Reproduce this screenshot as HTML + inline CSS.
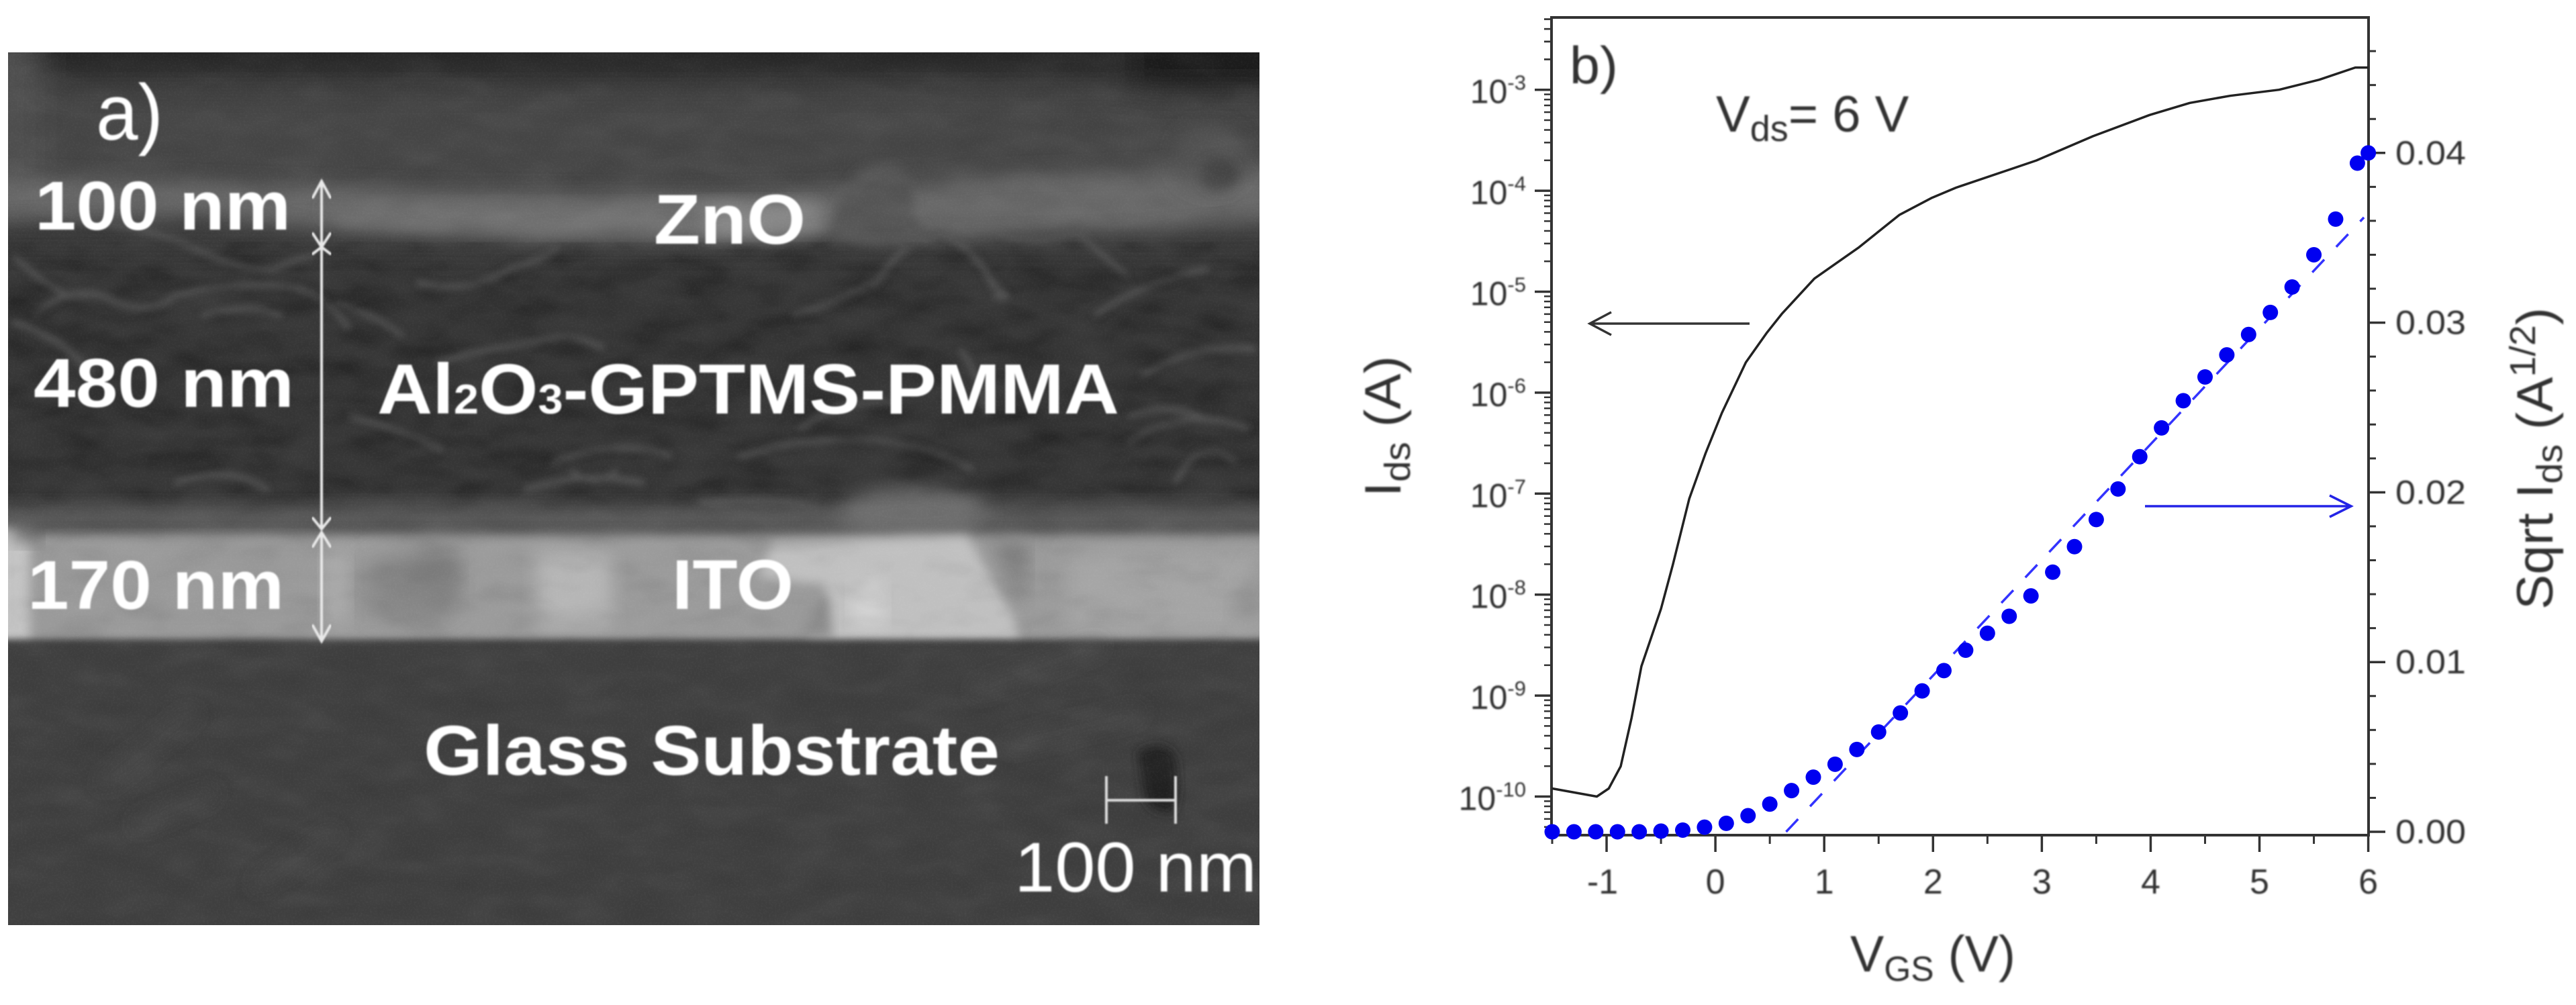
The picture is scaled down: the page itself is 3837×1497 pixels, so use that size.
<!DOCTYPE html>
<html lang="en">
<head>
<meta charset="utf-8">
<title>SEM cross-section and transfer characteristics</title>
<style>
html,body{margin:0;padding:0;background:#fff;width:3837px;height:1497px;overflow:hidden}
svg{display:block}
text{font-family:"Liberation Sans",sans-serif}
.bold{font-weight:700;fill:#fff}
.reg{fill:#fff}
.ink{fill:#333}
</style>
</head>
<body>
<svg id="figure" xmlns="http://www.w3.org/2000/svg" width="3837" height="1497" viewBox="0 0 3837 1497">
<defs>
<clipPath id="semClip"><rect x="12" y="78" width="1864" height="1300"/></clipPath>
<filter id="b30" x="-30%" y="-30%" width="160%" height="160%"><feGaussianBlur stdDeviation="30"/></filter>
<filter id="b22" x="-20%" y="-30%" width="140%" height="160%"><feGaussianBlur stdDeviation="22"/></filter>
<filter id="b14" x="-20%" y="-40%" width="140%" height="180%"><feGaussianBlur stdDeviation="14"/></filter>
<filter id="b8" x="-20%" y="-40%" width="140%" height="180%"><feGaussianBlur stdDeviation="8"/></filter>
<filter id="b5" x="-20%" y="-40%" width="140%" height="180%"><feGaussianBlur stdDeviation="5"/></filter>
<filter id="soft" x="-5%" y="-20%" width="110%" height="140%"><feGaussianBlur stdDeviation="1.1"/></filter>
<filter id="noiseLight" x="0" y="0" width="100%" height="100%" color-interpolation-filters="sRGB">
<feTurbulence type="fractalNoise" baseFrequency="0.012 0.03" numOctaves="3" seed="7"/>
<feColorMatrix type="matrix" values="0 0 0 0 1  0 0 0 0 1  0 0 0 0 1  1.6 0 0 0 -0.8"/>
<feGaussianBlur stdDeviation="3"/>
</filter>
<filter id="noiseDark" x="0" y="0" width="100%" height="100%" color-interpolation-filters="sRGB">
<feTurbulence type="fractalNoise" baseFrequency="0.012 0.03" numOctaves="3" seed="7"/>
<feColorMatrix type="matrix" values="0 0 0 0 0  0 0 0 0 0  0 0 0 0 0  -2 0 0 0 1"/>
<feGaussianBlur stdDeviation="3"/>
</filter>
<filter id="grain" x="0" y="0" width="100%" height="100%" color-interpolation-filters="sRGB">
<feTurbulence type="fractalNoise" baseFrequency="0.35" numOctaves="2" seed="3"/>
<feColorMatrix type="matrix" values="0 0 0 0 1  0 0 0 0 1  0 0 0 0 1  1.2 0 0 0 -0.5"/>
</filter>
</defs>

<g id="panel-a">
  <g clip-path="url(#semClip)">
    <rect x="0" y="60" width="1900" height="1340" fill="#3c3c3c"/>
    <g filter="url(#b22)">
      <rect x="-60" y="130" width="2020" height="170" fill="#464646"/>
      <rect x="-60" y="30" width="2020" height="85" fill="#272727"/>
      <rect x="-60" y="60" width="120" height="230" fill="#505050"/>
      <rect x="1690" y="30" width="240" height="110" fill="#1f1f1f"/>
      <rect x="-60" y="370" width="2020" height="400" fill="#363636"/>
    </g>
    <g>
      <path d="M-40 262 L300 272 L700 285 L1000 290 L1230 285 L1480 262 L1940 245 L1940 325 L1700 345 L1400 352 L1240 345 L1200 358 L800 358 L500 345 L300 322 L-40 328 Z" fill="#686868" filter="url(#b14)"/>
      <path d="M480 310 L1120 305 L1220 315 L1190 345 L800 345 L520 330 Z" fill="#747474" filter="url(#b14)"/>
      <path d="M1040 305 L1210 305 L1240 340 L1060 352 Z" fill="#8a8a8a" filter="url(#b14)"/>
      <path d="M1240 360 Q1240 300 1275 262 Q1310 228 1345 258 Q1365 280 1360 320 L1400 370 Z" fill="#575757" filter="url(#b8)"/>
      <ellipse cx="1803" cy="235" rx="55" ry="48" fill="#525252" filter="url(#b14)"/>
      <ellipse cx="1815" cy="260" rx="28" ry="24" fill="#464646" filter="url(#b8)"/>
    </g>
    <g fill="none" stroke="#575757" stroke-width="8" filter="url(#b5)" opacity=".8">
      <path d="M20 380 Q60 420 100 440 Q140 430 170 450 Q230 470 260 440 Q340 420 420 425 Q480 430 520 490"/>
      <path d="M50 470 Q100 430 130 440 M20 480 Q90 500 140 560 M120 330 Q230 340 290 370 Q350 400 410 400 Q440 385 470 380"/>
      <path d="M300 470 Q370 450 420 470 M500 450 Q560 470 600 500 M620 420 Q700 440 760 400 Q800 390 830 370"/>
      <path d="M650 540 Q720 520 800 510 Q850 490 900 520 M520 620 Q600 640 660 670"/>
      <path d="M1300 430 Q1340 360 1400 345 Q1450 370 1485 430 Q1515 450 1480 440"/>
      <path d="M1180 470 Q1250 450 1300 420 M1430 360 Q1470 400 1480 430 M1490 350 Q1560 370 1600 340 Q1650 390 1680 410"/>
      <path d="M1630 470 Q1700 420 1800 400 M1700 560 Q1780 510 1870 520 M1680 620 Q1730 600 1790 620"/>
      <path d="M1430 520 Q1460 560 1470 620 M1190 640 Q1260 590 1330 600 M1100 680 Q1300 620 1450 700"/>
      <path d="M1680 660 Q1760 600 1860 640 M1750 720 Q1790 640 1840 690 M820 690 Q920 650 1000 680 M260 720 Q340 690 400 730"/>
      <path d="M850 700 Q880 730 920 700 M1040 750 Q1180 740 1220 760 M780 730 Q880 700 960 720"/>
    </g>
    <rect x="12" y="360" width="1864" height="410" filter="url(#noiseDark)" opacity=".28"/>
    <g>
      <rect x="-60" y="752" width="2020" height="42" fill="#5c5c5c" filter="url(#b14)"/>
      <ellipse cx="1360" cy="765" rx="110" ry="38" fill="#6e6e6e" filter="url(#b14)"/>
      <rect x="-60" y="795" width="2020" height="190" fill="#9a9a9a" filter="url(#b8)"/>
      <rect x="-60" y="786" width="105" height="200" fill="#c4c4c4" filter="url(#b8)"/>
      <rect x="20" y="770" width="40" height="36" fill="#5c5c5c" filter="url(#b14)"/>
      <rect x="70" y="820" width="420" height="110" fill="#999" filter="url(#b22)"/>
      <ellipse cx="610" cy="875" rx="70" ry="50" fill="#828282" filter="url(#b22)"/>
      <ellipse cx="650" cy="860" rx="35" ry="55" fill="#808080" filter="url(#b14)"/>
      <rect x="800" y="825" width="110" height="110" fill="#b6b6b6" filter="url(#b14)"/>
      <rect x="480" y="820" width="40" height="110" fill="#aaa" filter="url(#b14)"/>
      <path d="M1150 810 L1440 798 L1510 920 L1525 990 L1190 990 L1230 870 L1130 860 Z" fill="#c0c0c0" filter="url(#b8)"/>
      <path d="M1220 880 L1190 950 L1240 950 L1235 890 Z" fill="#8a8a8a" filter="url(#b8)"/>
      <rect x="1268" y="870" width="50" height="60" fill="#d4d4d4" filter="url(#b14)"/>
      <path d="M1470 800 L1530 800 L1530 870 L1520 900 Z" fill="#808080" filter="url(#b14)"/>
      <rect x="1590" y="825" width="290" height="120" fill="#a4a4a4" filter="url(#b14)"/>
      <path d="M1830 920 L1876 830 L1876 920 Z" fill="#8e8e8e" filter="url(#b14)"/>
    </g>
    <rect x="-30" y="952" width="1960" height="460" fill="#3f3f3f" filter="url(#b5)"/>
    <g filter="url(#b14)" fill="none" stroke="#505050" stroke-width="12">
      <path d="M150 1170 L290 1060 M200 1230 L320 1180 M380 1320 L500 1240"/>
      <path d="M1450 1030 L1640 960 M1500 1110 L1700 1060"/>
    </g>
    <path d="M1695 1120 Q1730 1100 1750 1125 Q1760 1170 1748 1212 Q1715 1212 1705 1190 Z" fill="#202020" filter="url(#b8)"/>
    <rect x="12" y="78" width="1864" height="1300" filter="url(#noiseLight)" opacity=".06"/>
    <rect x="12" y="78" width="1864" height="1300" filter="url(#noiseDark)" opacity=".08"/>
    <rect x="12" y="78" width="1864" height="1300" filter="url(#grain)" opacity=".06"/>
  </g>

  <g fill="none" stroke="#e8e8e8" stroke-width="4" stroke-linecap="round" filter="url(#soft)">
    <path d="M479 270V368M466 294L479 270L492 294M466 348L479 368L492 348"/>
    <path d="M479 368V788M466 378L479 368L492 378M466 772L479 788L492 772"/>
    <path d="M479 793V955M466 814L479 793L492 814M466 932L479 955L492 932"/>
  </g>
  <path d="M1648 1156V1227M1751 1156V1227M1648 1192H1751" fill="none" stroke="#ddd" stroke-width="4" filter="url(#soft)"/>

  <g filter="url(#soft)">
    <text class="reg" x="143" y="208" font-size="118" textLength="100" lengthAdjust="spacingAndGlyphs">a)</text>
    <text class="bold" x="52" y="342" font-size="103" textLength="381" lengthAdjust="spacingAndGlyphs">100 nm</text>
    <text class="bold" x="974" y="363" font-size="105" textLength="226" lengthAdjust="spacingAndGlyphs">ZnO</text>
    <text class="bold" x="50" y="606" font-size="103" textLength="388" lengthAdjust="spacingAndGlyphs">480 nm</text>
    <text class="bold" x="562" y="616" font-size="106" textLength="1105" lengthAdjust="spacingAndGlyphs">Al<tspan font-size="62">2</tspan>O<tspan font-size="62">3</tspan>-GPTMS-PMMA</text>
    <text class="bold" x="41" y="907" font-size="103" textLength="382" lengthAdjust="spacingAndGlyphs">170 nm</text>
    <text class="bold" x="1001" y="907" font-size="105" textLength="181" lengthAdjust="spacingAndGlyphs">ITO</text>
    <text class="bold" x="631" y="1154" font-size="105" textLength="858" lengthAdjust="spacingAndGlyphs">Glass Substrate</text>
    <text class="reg" x="1511" y="1328" font-size="105" textLength="361" lengthAdjust="spacingAndGlyphs">100 nm</text>
  </g>
</g>

<g id="panel-b">
  <g id="axes"></g>
  <g id="marks"></g>
  <g filter="url(#soft)">
    <text class="ink" x="2338" y="124" font-size="78" textLength="72" lengthAdjust="spacingAndGlyphs">b)</text>
    <text class="ink" x="2556" y="196" font-size="76">V<tspan font-size="54" dy="14">ds</tspan><tspan dy="-14">= 6 V</tspan></text>
    <text class="ink" x="2756" y="1447" font-size="76" textLength="246" lengthAdjust="spacingAndGlyphs">V<tspan font-size="52" dy="14">GS</tspan><tspan dy="-14"> (V)</tspan></text>
    <text class="ink" transform="translate(2086 740) rotate(-90)" font-size="76" textLength="210" lengthAdjust="spacingAndGlyphs">I<tspan font-size="54" dy="14">ds</tspan><tspan dy="-14"> (A)</tspan></text>
    <text class="ink" transform="translate(3802 908) rotate(-90)" font-size="76" textLength="450" lengthAdjust="spacingAndGlyphs">Sqrt I<tspan font-size="54" dy="14">ds</tspan><tspan dy="-14"> (A</tspan><tspan font-size="54" dy="-26">1/2</tspan><tspan dy="26">)</tspan></text>
  </g>
  <g fill="none" stroke="#333" stroke-width="3.5">
    <path d="M2606 482H2368M2400 465L2368 482L2400 499"/>
  </g>
  <g fill="none" stroke="#2323e6" stroke-width="3.5">
    <path d="M3195 754H3502M3470 738L3502 754L3470 770"/>
  </g>
</g>

<script>
// Data
const xMajorTicks = [-1, 0, 1, 2, 3, 4, 5, 6];
const xMinorTicks = [-1.5, -0.5, 0.5, 1.5, 2.5, 3.5, 4.5, 5.5];
const logMajorExponents = [-3, -4, -5, -6, -7, -8, -9, -10];
const rightMajorTicks = [0, 0.01, 0.02, 0.03, 0.04];
const rightMinorTicks = [0.002, 0.004, 0.006, 0.008, 0.012, 0.014, 0.016, 0.018, 0.022, 0.024, 0.026, 0.028, 0.032, 0.034, 0.036, 0.038, 0.042, 0.044, 0.046];
const rightTickLabels = ['0.00', '0.01', '0.02', '0.03', '0.04'];

const vgsCurve = [-1.5, -1.09, -0.98, -0.87, -0.77, -0.68, -0.5, -0.39, -0.24, -0.09, 0.06, 0.28, 0.47, 0.61, 0.91, 1.32, 1.69, 1.99, 2.21, 2.65, 2.95, 3.47, 3.99, 4.36, 4.73, 5.18, 5.55, 5.88, 6];
const logIdsCurve = [-9.92, -10, -9.92, -9.7, -9.22, -8.71, -8.14, -7.7, -7.05, -6.6, -6.2, -5.7, -5.41, -5.22, -4.87, -4.56, -4.24, -4.07, -3.97, -3.81, -3.7, -3.46, -3.25, -3.13, -3.06, -3, -2.9, -2.78, -2.78];

const vgsPoints = [-1.5, -1.3, -1.1, -0.9, -0.7, -0.5, -0.3, -0.1, 0.1, 0.3, 0.5, 0.7, 0.9, 1.1, 1.3, 1.5, 1.7, 1.9, 2.1, 2.3, 2.5, 2.7, 2.9, 3.1, 3.3, 3.5, 3.7, 3.9, 4.1, 4.3, 4.5, 4.7, 4.9, 5.1, 5.3, 5.5, 5.7, 5.9, 6];
const sqrtIdsPoints = [0, 0, 0, 0, 0, 0.00004, 0.0001, 0.00027, 0.0005, 0.00095, 0.00163, 0.00243, 0.00322, 0.00398, 0.00485, 0.00588, 0.007, 0.0083, 0.0095, 0.0107, 0.0117, 0.0127, 0.0139, 0.0153, 0.0168, 0.0184, 0.0202, 0.0221, 0.0238, 0.0254, 0.0268, 0.0281, 0.0293, 0.0306, 0.0321, 0.034, 0.0361, 0.0394, 0.04];

const fitVgs = [0.65, 5.96];
const fitSqrtIds = [0, 0.0362];

// Axis functions
const plot = {left: 2311, right: 3528, top: 26, bottom: 1244};
const xScale = v => 2312 + (v + 1.5) * (3527.6 - 2312) / 7.5;
const yLog = e => 133.7 + (-3 - e) * 150.4;
const yRight = s => 1239 - s * 25280;

const NS = 'http://www.w3.org/2000/svg';
const axes = document.getElementById('axes');
const marks = document.getElementById('marks');
function svgEl(tag, parent) {
  const el = document.createElementNS(NS, tag);
  parent.appendChild(el);
  return el;
}
function tickLine(parent, x1, y1, x2, y2, w) {
  const t = svgEl('line', parent);
  t.setAttribute('x1', x1); t.setAttribute('y1', y1);
  t.setAttribute('x2', x2); t.setAttribute('y2', y2);
  t.setAttribute('stroke', '#333');
  t.setAttribute('stroke-width', w);
  
  
  return t;
}

// Frame
const frame = svgEl('rect', axes);
frame.setAttribute('x', plot.left);
frame.setAttribute('y', plot.top);
frame.setAttribute('width', plot.right - plot.left);
frame.setAttribute('height', plot.bottom - plot.top);
frame.setAttribute('fill', 'none');
frame.setAttribute('stroke', '#333');
frame.setAttribute('stroke-width', '4');



// X axis
xMajorTicks.forEach(v => {
  tickLine(axes, xScale(v), plot.bottom, xScale(v), plot.bottom + 25, 3.5);
  const lbl = svgEl('text', axes);
  lbl.setAttribute('x', xScale(v) - (v < 0 ? 6 : 0));
  lbl.setAttribute('y', 1331);
  lbl.setAttribute('text-anchor', 'middle');
  lbl.setAttribute('font-size', '52');
  lbl.setAttribute('class', 'ink');
  lbl.setAttribute('filter', 'url(#soft)');
  
  
  lbl.textContent = String(v);
});
xMinorTicks.forEach(v => {
  tickLine(axes, xScale(v), plot.bottom, xScale(v), plot.bottom + 13, 3);
});

// Left log axis
logMajorExponents.forEach(e => {
  tickLine(axes, plot.left - 25, yLog(e), plot.left, yLog(e), 3.5);
  const lbl = svgEl('text', axes);
  lbl.setAttribute('x', 2273);
  lbl.setAttribute('y', yLog(e) + 20);
  lbl.setAttribute('text-anchor', 'end');
  lbl.setAttribute('font-size', '50');
  lbl.setAttribute('class', 'ink');
  lbl.setAttribute('filter', 'url(#soft)');
  
  
  lbl.appendChild(document.createTextNode('10'));
  const sup = svgEl('tspan', lbl);
  sup.setAttribute('font-size', '31');
  sup.setAttribute('dy', '-20');
  sup.textContent = String(e);
});
for (let d = -11; d <= -3; d++) {
  for (let m = 2; m <= 9; m++) {
    const e = d + Math.log10(m);
    const y = yLog(e);
    if (y > plot.top && y < plot.bottom) tickLine(axes, plot.left - 11, y, plot.left, y, 2.5);
  }
}
for (let m = 2; m <= 5; m++) {
  tickLine(axes, plot.left - 11, yLog(-3 + Math.log10(m)), plot.left, yLog(-3 + Math.log10(m)), 2.5);
}

// Right linear axis
rightMajorTicks.forEach((s, i) => {
  tickLine(axes, plot.right, yRight(s), plot.right + 25, yRight(s), 3.5);
  const lbl = svgEl('text', axes);
  lbl.setAttribute('x', 3568);
  lbl.setAttribute('y', yRight(s) + 17);
  lbl.setAttribute('font-size', '50');
  lbl.setAttribute('textLength', '105');
  lbl.setAttribute('lengthAdjust', 'spacingAndGlyphs');
  lbl.setAttribute('class', 'ink');
  lbl.setAttribute('filter', 'url(#soft)');
  
  
  lbl.textContent = rightTickLabels[i];
});
rightMinorTicks.forEach(s => {
  tickLine(axes, plot.right, yRight(s), plot.right + 11, yRight(s), 3);
});

// Black Ids curve (log axis)
const curve = svgEl('path', marks);
curve.setAttribute('d', vgsCurve.map((v, i) => (i ? 'L' : 'M') + xScale(v).toFixed(1) + ' ' + yLog(logIdsCurve[i]).toFixed(1)).join(''));
curve.setAttribute('fill', 'none');
curve.setAttribute('stroke', '#222');
curve.setAttribute('stroke-width', '3.5');
curve.setAttribute('stroke-linejoin', 'round');



// Dashed linear fit (right axis)
const fit = svgEl('line', marks);
fit.setAttribute('x1', xScale(fitVgs[0]));
fit.setAttribute('y1', yRight(fitSqrtIds[0]));
fit.setAttribute('x2', xScale(fitVgs[1]));
fit.setAttribute('y2', yRight(fitSqrtIds[1]));
fit.setAttribute('stroke', '#3333ff');
fit.setAttribute('stroke-width', '3.5');
fit.setAttribute('stroke-dasharray', '26 26');



// Blue sqrt(Ids) points (right axis)
vgsPoints.forEach((v, i) => {
  const c = svgEl('circle', marks);
  c.setAttribute('cx', xScale(v));
  c.setAttribute('cy', yRight(sqrtIdsPoints[i]));
  c.setAttribute('r', '11.5');
  c.setAttribute('fill', '#0000f0');
  
  
});
</script>
</svg>
</body>
</html>
